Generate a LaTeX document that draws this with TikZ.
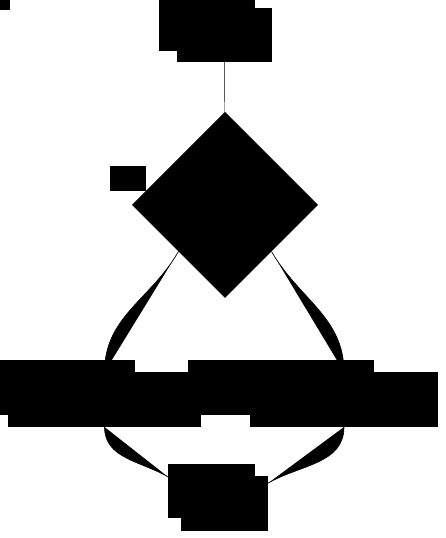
\documentclass[tikz,border=0pt]{standalone}
\usepackage{tikz}
\usetikzlibrary{shapes.geometric}
\tikzset{blk/.style={rectangle,fill=black,inner sep=0pt,outer sep=0pt},
         dia/.style={diamond,fill=black,aspect=1,inner sep=0pt,outer sep=0pt,minimum width=186pt,minimum height=186pt},
         conn/.style={fill=black,line width=0.6pt}}

\begin{document}
\begin{tikzpicture}[x=1pt,y=1pt]
        \useasboundingbox (0,0) rectangle (445,538);
        \clip (0,0) rectangle (445,538);

        \node[blk,minimum width=10pt,minimum height=10pt] (corner) at (5,533) {};
        \node[blk,minimum width=96pt,minimum height=51pt] (startback) at (207,512.5) {};
        \node[blk,minimum width=95pt,minimum height=54pt] (start) at (224.5,503) {};
        \node[dia] (dec) at (225,333) {};
        \node[blk,minimum width=36pt,minimum height=25pt] (lbl) at (128,359.5) {};
        \node[blk,minimum width=188pt,minimum height=55pt] (leftback) at (41,150.5) {};
        \node[blk,minimum width=193pt,minimum height=55pt] (left) at (104.5,138.5) {};
        \node[blk,minimum width=186pt,minimum height=55pt] (rightback) at (281,150.5) {};
        \node[blk,minimum width=188pt,minimum height=55pt] (right) at (344,138.5) {};
        \node[blk,minimum width=87pt,minimum height=54pt] (stopback) at (211.5,47) {};
        \node[blk,minimum width=87pt,minimum height=55pt] (stop) at (224.5,34.5) {};

        \draw (start) -- (dec);
        \draw [conn] (dec.south west) to[out=240,in=90] (left.north);
        \draw [conn] (dec.south east) to[out=300,in=90] (right.north);
        \draw [conn] (left.south) to[out=270,in=150] (stopback.162);
        \draw [conn] (right.south) to[out=270,in=30] (stop.25);
    \end{tikzpicture}
\end{document}
